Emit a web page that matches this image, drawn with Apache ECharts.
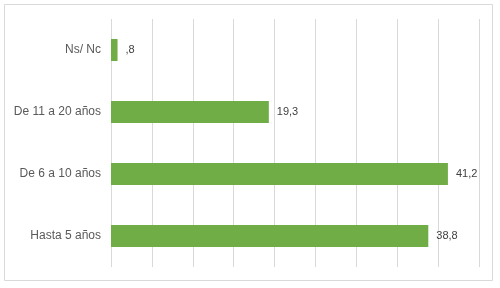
<!DOCTYPE html>
<html><head><meta charset="utf-8">
<script src="https://cdn.jsdelivr.net/npm/echarts@6/dist/echarts.min.js"></script>
<style>html,body{margin:0;padding:0;background:#fff}#c{width:500px;height:288px}</style>
</head><body><div id="c"></div>
<script>
const categories = ['Hasta 5 años', 'De 6 a 10 años', 'De 11 a 20 años', 'Ns/ Nc'];
const values = [38.8, 41.2, 19.3, 0.8];
const xMin = 0, xMax = 45, xStep = 5;

function fmt(v){ return v.toFixed(1).replace('.', ',').replace(/^0/, ''); }

const chart = echarts.init(document.getElementById('c'), null, {renderer:'canvas'});
chart.setOption({
  animation:false,
  backgroundColor:'#fff',
  graphic:[{type:'rect', shape:{x:4.5,y:4.5,width:488,height:276}, style:{fill:'none', stroke:'#d9d9d9', lineWidth:1}, silent:true}],
  grid:{left:111, right:21, top:19, bottom:21, containLabel:false},
  xAxis:{type:'value', min:xMin, max:xMax, interval:xStep,
    axisLine:{show:false}, axisTick:{show:false}, axisLabel:{show:false},
    splitLine:{show:true, lineStyle:{color:'#d9d9d9', width:1}}},
  yAxis:{type:'category', data:categories,
    axisLine:{show:false}, axisTick:{show:false},
    axisLabel:{margin:10, color:'#595959', fontSize:12, fontFamily:'Liberation Sans, Arial, sans-serif'}},
  series:[{type:'bar', data:values, barWidth:22,
    itemStyle:{color:'#70ad47'},
    label:{show:true, position:'right', distance:8, color:'#404040', fontSize:11,
      fontFamily:'Liberation Sans, Arial, sans-serif', formatter:p=>fmt(p.value)}}]
});
</script></body></html>
